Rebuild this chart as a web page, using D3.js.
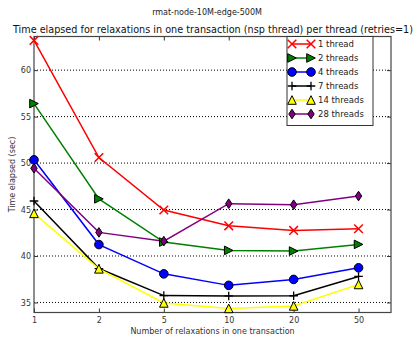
<!DOCTYPE html>
<html>
<head>
<meta charset="utf-8">
<script src="https://cdn.jsdelivr.net/npm/d3@7"></script>
<style>
  html, body { margin: 0; padding: 0; background: #fff; }
  svg { display: block; font-family: "DejaVu Sans", sans-serif; }
</style>
</head>
<body>
<svg id="chart" width="414" height="338"></svg>
<script>
// Relaxations per transaction (categorical x axis)
const categories = ["1", "2", "5", "10", "20", "50"];

// Elapsed time (sec) per thread count
const t1  = [63.2, 50.6, 44.95, 43.25, 42.75, 42.93];
const t2  = [56.4, 46.15, 41.5, 40.6, 40.53, 41.25];
const t4  = [50.35, 41.23, 38.08, 36.84, 37.48, 38.73];
const t7  = [45.92, 38.65, 35.74, 35.7, 35.72, 37.8];
const t14 = [44.59, 38.62, 34.95, 34.36, 34.63, 36.94];
const t28 = [49.44, 42.54, 41.6, 45.63, 45.52, 46.45];

const seriesNames = ["1 thread", "2 threads", "4 threads", "7 threads", "14 threads", "28 threads"];
const yTicks = [35, 40, 45, 50, 55, 60];

const series = [
  { name: seriesNames[0], values: t1,  color: "#ff0000", marker: "x" },
  { name: seriesNames[1], values: t2,  color: "#008000", marker: ">" },
  { name: seriesNames[2], values: t4,  color: "#0000ff", marker: "o" },
  { name: seriesNames[3], values: t7,  color: "#000000", marker: "+" },
  { name: seriesNames[4], values: t14, color: "#ffff00", marker: "^" },
  { name: seriesNames[5], values: t28, color: "#800080", marker: "d" }
];

const svg = d3.select("#chart");
const L = 34, R = 391, T = 36.5, B = 312.5;

const x = d3.scaleLinear().domain([0, categories.length - 0.5]).range([L, R]);
const y = d3.scaleLinear().domain([33.92, 63.62]).range([B, T]);

// Figure titles
svg.append("text").attr("x", 207).attr("y", 15).attr("text-anchor", "middle")
  .attr("font-size", 8).attr("fill", "#222").text("rmat-node-10M-edge-500M");
svg.append("text").attr("x", 213).attr("y", 32.5).attr("text-anchor", "middle")
  .attr("font-size", 9.6).attr("fill", "#111")
  .attr("textLength", 400).attr("lengthAdjust", "spacingAndGlyphs")
  .text("Time elapsed for relaxations in one transaction (nsp thread) per thread (retries=1)");

// Horizontal dotted grid
svg.append("g").selectAll("line").data(yTicks).join("line")
  .attr("x1", L).attr("x2", R)
  .attr("y1", d => y(d)).attr("y2", d => y(d))
  .attr("stroke", "#000").attr("stroke-width", 1).attr("stroke-dasharray", "1,2");

// Axes with inward ticks on all four sides
const xIdx = d3.range(categories.length);
const axB = svg.append("g").attr("transform", `translate(0,${B})`)
  .call(d3.axisBottom(x).tickValues(xIdx).tickFormat(i => categories[i]).tickSize(-4).tickPadding(5));
const axT = svg.append("g").attr("transform", `translate(0,${T})`)
  .call(d3.axisTop(x).tickValues(xIdx).tickFormat("").tickSize(-4));
const axL = svg.append("g").attr("transform", `translate(${L},0)`)
  .call(d3.axisLeft(y).tickValues(yTicks).tickSize(-4).tickPadding(3));
const axR = svg.append("g").attr("transform", `translate(${R},0)`)
  .call(d3.axisRight(y).tickValues(yTicks).tickFormat("").tickSize(-4));
[axB, axT, axL, axR].forEach(g => {
  g.select(".domain").remove();
  g.selectAll(".tick line").attr("stroke", "#333");
  g.selectAll(".tick text").attr("font-size", 8).attr("fill", "#333")
    .attr("font-family", "DejaVu Sans, sans-serif");
});

// Frame
svg.append("rect").attr("x", L).attr("y", T).attr("width", R - L).attr("height", B - T)
  .attr("fill", "none").attr("stroke", "#444").attr("stroke-width", 1.2);

// Axis labels
svg.append("text").attr("x", (L + R) / 2).attr("y", 334).attr("text-anchor", "middle")
  .attr("font-size", 8).attr("fill", "#333").text("Number of relaxations in one transaction");
svg.append("text").attr("transform", `translate(15,${(T + B) / 2}) rotate(-90)`)
  .attr("text-anchor", "middle").attr("font-size", 8).attr("fill", "#333")
  .text("Time elapsed (sec)");

// Marker drawing
function drawMarker(g, type, color, cx, cy) {
  const s = 4.3;
  if (type === "x") {
    g.append("path").attr("d", `M${cx - s},${cy - s}L${cx + s},${cy + s}M${cx - s},${cy + s}L${cx + s},${cy - s}`)
      .attr("stroke", color).attr("stroke-width", 1.5).attr("fill", "none");
  } else if (type === "+") {
    g.append("path").attr("d", `M${cx - s},${cy}L${cx + s},${cy}M${cx},${cy - s}L${cx},${cy + s}`)
      .attr("stroke", color).attr("stroke-width", 1.3).attr("fill", "none");
  } else if (type === "o") {
    g.append("circle").attr("cx", cx).attr("cy", cy).attr("r", 4.3)
      .attr("fill", color).attr("stroke", "#000").attr("stroke-width", 1);
  } else if (type === ">") {
    g.append("path").attr("d", `M${cx + s},${cy}L${cx - s},${cy - s}L${cx - s},${cy + s}Z`)
      .attr("fill", color).attr("stroke", "#000").attr("stroke-width", 1);
  } else if (type === "^") {
    g.append("path").attr("d", `M${cx},${cy - s}L${cx + s},${cy + s}L${cx - s},${cy + s}Z`)
      .attr("fill", color).attr("stroke", "#000").attr("stroke-width", 1);
  } else if (type === "d") {
    g.append("path").attr("d", `M${cx},${cy - 4.8}L${cx + 3.2},${cy}L${cx},${cy + 4.8}L${cx - 3.2},${cy}Z`)
      .attr("fill", color).attr("stroke", "#000").attr("stroke-width", 1);
  }
}

// Series lines and markers
const line = d3.line().x((d, i) => x(i)).y(d => y(d));
const plot = svg.append("g");
series.forEach(s => {
  plot.append("path").datum(s.values).attr("d", line)
    .attr("fill", "none").attr("stroke", s.color).attr("stroke-width", 1.5);
});
series.forEach(s => {
  s.values.forEach((v, i) => drawMarker(plot, s.marker, s.color, x(i), y(v)));
});

// Legend
const lg = svg.append("g");
const lx = 287, ly = T, lw = 86, rowH = 14;
lg.append("rect").attr("x", lx).attr("y", ly).attr("width", lw).attr("height", rowH * series.length + 5)
  .attr("fill", "#fff").attr("stroke", "#333").attr("stroke-width", 1);
series.forEach((s, k) => {
  const cy = ly + 7.5 + k * rowH;
  lg.append("line").attr("x1", lx + 5).attr("x2", lx + 24).attr("y1", cy).attr("y2", cy)
    .attr("stroke", s.color).attr("stroke-width", 1.5);
  drawMarker(lg, s.marker, s.color, lx + 5, cy);
  drawMarker(lg, s.marker, s.color, lx + 24, cy);
  lg.append("text").attr("x", lx + 31).attr("y", cy + 3).attr("font-size", 8.5).attr("fill", "#222")
    .text(s.name);
});
</script>
</body>
</html>
